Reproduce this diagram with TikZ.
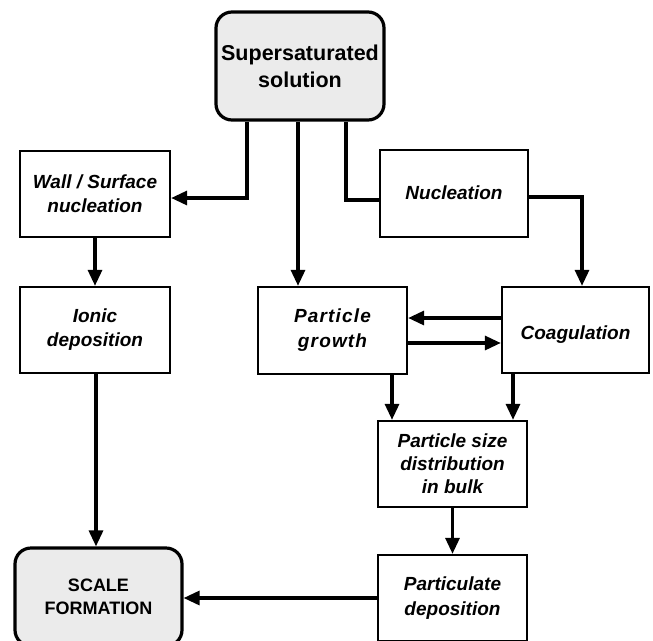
\documentclass[tikz,border=0pt]{standalone}
\usepackage{fontspec}
\setmainfont{Liberation Sans}
\newfontfamily\spaced[LetterSpace=6]{Liberation Sans}
\usetikzlibrary{arrows.meta}
\begin{document}
\begin{tikzpicture}[x=1pt,y=-1pt,
  box/.style={draw,line width=2.3pt,align=center,inner sep=0pt,font=\fontsize{19}{24}\selectfont\bfseries\itshape},
  rbox/.style={draw,line width=3.2pt,rounded corners=16pt,fill=black!8,align=center,inner sep=0pt},
  arr/.style={line width=3.2pt,-{Triangle[length=16pt,width=14pt]}},
  ln/.style={line width=3.2pt}]
\useasboundingbox (0,0) rectangle (653,640);
\fill[white] (0,0) rectangle (653,640);
\node[rbox,minimum width=168pt,minimum height=108pt,font=\fontsize{21.5}{27}\selectfont\bfseries] (sup) at (300,66) {Supersaturated\\solution};
\node[box,minimum width=150pt,minimum height=86pt] (wall) at (95,194) {Wall / Surface\\nucleation};
\node[box,minimum width=148pt,minimum height=87pt] (nuc) at (454,193.5) {\raisebox{1pt}[\height][\depth]{Nucleation}};
\node[box,minimum width=149pt,minimum height=87pt,font=\fontsize{19}{25}\selectfont\bfseries\itshape] (grow) at (332.5,330.5) {{\spaced Particle}\\{\spaced growth}};
\node[box,minimum width=147pt,minimum height=86pt] (coag) at (575.5,330) {\raisebox{-5pt}[\height][\depth]{Coagulation}};
\node[box,minimum width=150pt,minimum height=86pt] (ionic) at (95,330) {Ionic\\deposition};
\node[box,minimum width=149pt,minimum height=86pt,font=\fontsize{19}{23}\selectfont\bfseries\itshape] (psd) at (452.5,464) {Particle size\\distribution\\in bulk};
\node[box,minimum width=149pt,minimum height=86pt,font=\fontsize{19}{25}\selectfont\bfseries\itshape] (part) at (452.5,598) {Particulate\\deposition};
\node[rbox,minimum width=167pt,minimum height=98pt,font=\fontsize{18}{23}\selectfont\bfseries] (scale) at (98.5,597) {SCALE\\FORMATION};
% connectors
\draw[arr] ([xshift=-53pt]sup.south) |- ([yshift=-4pt]wall.east);
\draw[arr] ([xshift=-2pt]sup.south) -- ([xshift=-2pt]sup.south |- grow.north);
\draw[ln] ([xshift=46pt]sup.south) |- ([yshift=-6.5pt]nuc.west);
\draw[arr] ([yshift=-3.5pt]nuc.east) -| ([xshift=6.5pt]coag.north);
\draw[arr] ([yshift=12pt]coag.west) -- ([yshift=12pt]coag.west -| grow.east);
\draw[arr] ([yshift=-12.5pt]grow.east) -- ([yshift=-12.5pt]grow.east -| coag.west);
\draw[arr] ([xshift=59.5pt]grow.south) -- ([xshift=59.5pt]grow.south |- psd.north);
\draw[arr] ([xshift=-62.5pt]coag.south) -- ([xshift=-62.5pt]coag.south |- psd.north);
\draw[arr] (wall.south) -- (ionic.north);
\draw[arr] ([xshift=1pt]ionic.south) -- ([xshift=1pt]ionic.south |- scale.north);
\draw[arr] (psd.south) -- (part.north);
\draw[arr] (part.west) -- (part.west -| scale.east);
\end{tikzpicture}
\end{document}
